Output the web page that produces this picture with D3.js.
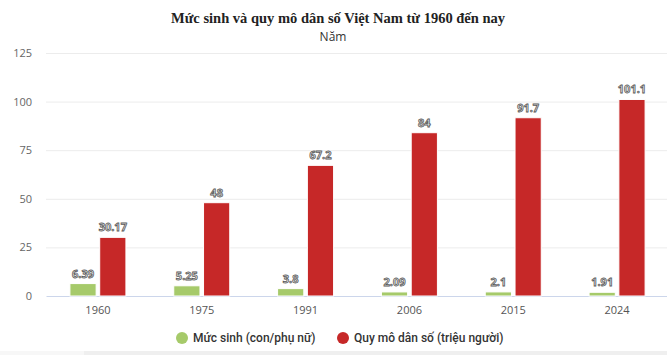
<!DOCTYPE html>
<html><head><meta charset="utf-8">
<script src="https://cdn.jsdelivr.net/npm/d3@7"></script>
<style>
body{margin:0;background:#fff;}
svg{display:block;}
</style></head>
<body>
<svg id="c" width="667" height="355"></svg>
<script>
const categories = ["1960","1975","1991","2006","2015","2024"];
const fertility = [6.39,5.25,3.8,2.09,2.1,1.91];
const population = [30.17,48,67.2,84,91.7,101.1];
const yTicks = [0,25,50,75,100,125];
const seriesNames = ["Mức sinh (con/phụ nữ)","Quy mô dân số (triệu người)"];
const colors = ["#a6ca6a","#c62828"];

const svg = d3.select("#c");
const W = 667, H = 355;
const m = {left:46, right:-2, top:53, bottom:59};
const x = d3.scaleBand().domain(categories).range([m.left, W - m.right]);
const y = d3.scaleLinear().domain([0,125]).range([H - m.bottom, m.top]);

// bottom strip
svg.append("rect").attr("x",0).attr("y",351).attr("width",84).attr("height",4).attr("fill","#f7f7f7");
svg.append("rect").attr("x",84).attr("y",351).attr("width",W-84).attr("height",4).attr("fill","#efefef");

// title
svg.append("text").attr("x",338).attr("y",23).attr("text-anchor","middle")
  .attr("font-family","'Liberation Serif','Times New Roman',serif").attr("font-weight","bold")
  .attr("font-size",14.5).attr("fill","#222").text("Mức sinh và quy mô dân số Việt Nam từ 1960 đến nay");
svg.append("text").attr("x",333).attr("y",41).attr("text-anchor","middle")
  .attr("font-family","'Open Sans',sans-serif").attr("font-size",12).attr("fill","#333").text("Năm");

// grid
const yAxis = d3.axisLeft(y).tickValues(yTicks).tickSize(-(W - m.left - m.right)).tickPadding(14);
const gy = svg.append("g").attr("transform",`translate(${m.left},0)`).call(yAxis);
gy.select(".domain").remove();
gy.selectAll(".tick line").attr("stroke","#ececec");
gy.selectAll(".tick text").attr("font-family","'Open Sans',sans-serif").attr("font-size",11).attr("fill","#666");
gy.selectAll(".tick").filter(d=>d===0).select("line").remove();

// x axis
const xAxis = d3.axisBottom(x).tickSize(0).tickPadding(10);
const gx = svg.append("g").attr("transform",`translate(0,${y(0)})`).call(xAxis);
gx.select(".domain").attr("stroke","#ccd6eb").attr("stroke-width",1);
gx.selectAll(".tick text").attr("font-family","'Open Sans',sans-serif").attr("font-size",11).attr("fill","#555");

// bars
const inner = d3.scaleBand().domain([0,1]).range([0,56]).paddingInner(0.12);
const groupOffset = (x.bandwidth() - 56)/2;
const series = [fertility, population];
series.forEach((vals, si) => {
  const g = svg.append("g");
  g.selectAll("rect").data(vals).join("rect")
    .attr("x",(d,i)=>x(categories[i]) + groupOffset + inner(si))
    .attr("y",d=>y(d))
    .attr("width",inner.bandwidth())
    .attr("height",d=>y(0)-y(d))
    .attr("fill",colors[si])
    .attr("stroke","#fff").attr("stroke-width",1);
  g.selectAll("text").data(vals).join("text")
    .attr("x",(d,i)=>x(categories[i]) + groupOffset + inner(si) + inner.bandwidth()/2)
    .attr("y",d=>y(d) - 6)
    .attr("text-anchor","middle")
    .attr("font-family","'Open Sans',sans-serif").attr("font-weight","bold").attr("font-size",11)
    .attr("fill","#f2f2f2").attr("stroke","#5a5a5a").attr("stroke-width",0.8)
    .text(d=>d);
});

// legend
const leg = [{x:182, t:seriesNames[0], c:colors[0]},{x:343, t:seriesNames[1], c:colors[1]}];
leg.forEach(l=>{
  svg.append("circle").attr("cx",l.x).attr("cy",338).attr("r",6).attr("fill",l.c);
  svg.append("text").attr("x",l.x+11).attr("y",342)
    .attr("font-family","Roboto,sans-serif").attr("font-weight","500").attr("font-size",12)
    .attr("fill","#333").text(l.t);
});
</script>
</body></html>
